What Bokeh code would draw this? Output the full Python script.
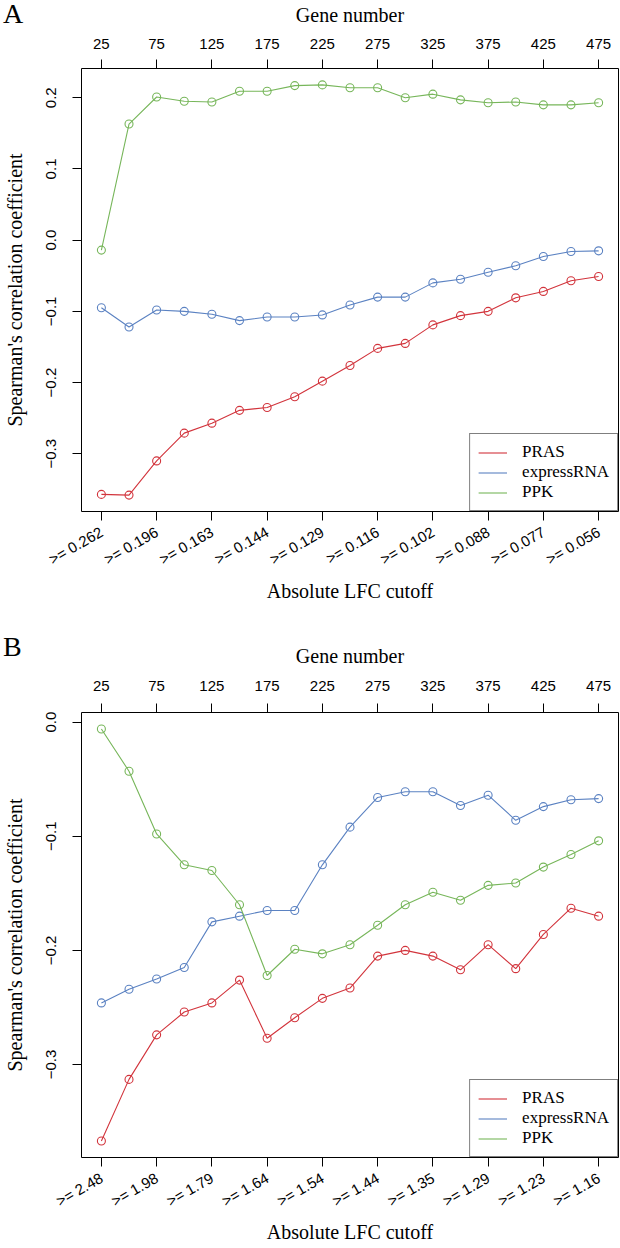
import math
from bokeh.plotting import figure
from bokeh.models import LinearAxis, FixedTicker, Range1d, Div
from bokeh.layouts import column
from bokeh.embed import file_html
from bokeh.resources import INLINE

# ---------------- data ----------------
gene_number = [25, 50, 75, 100, 125, 150, 175, 200, 225, 250,
               275, 300, 325, 350, 375, 400, 425, 450, 475]
label_ticks = [25, 75, 125, 175, 225, 275, 325, 375, 425, 475]
top_tick_labels = ["25", "75", "125", "175", "225", "275", "325", "375", "425", "475"]

a_cutoff_labels = [">= 0.262", ">= 0.196", ">= 0.163", ">= 0.144", ">= 0.129",
                   ">= 0.116", ">= 0.102", ">= 0.088", ">= 0.077", ">= 0.056"]
b_cutoff_labels = [">= 2.48", ">= 1.98", ">= 1.79", ">= 1.64", ">= 1.54",
                   ">= 1.44", ">= 1.35", ">= 1.29", ">= 1.23", ">= 1.16"]

a_pras = [-0.357, -0.358, -0.310, -0.271, -0.257, -0.239, -0.235, -0.220, -0.198, -0.176,
          -0.152, -0.145, -0.119, -0.106, -0.100, -0.081, -0.072, -0.057, -0.051]
a_express = [-0.095, -0.122, -0.098, -0.100, -0.104, -0.113, -0.108, -0.108, -0.105, -0.091,
             -0.080, -0.080, -0.060, -0.055, -0.045, -0.036, -0.023, -0.016, -0.015]
a_ppk = [-0.014, 0.163, 0.201, 0.195, 0.194, 0.209, 0.209, 0.217, 0.218, 0.214,
         0.214, 0.200, 0.205, 0.197, 0.193, 0.194, 0.190, 0.190, 0.193]

b_pras = [-0.367, -0.313, -0.274, -0.254, -0.246, -0.226, -0.277, -0.259, -0.242, -0.233,
          -0.205, -0.200, -0.205, -0.217, -0.195, -0.216, -0.186, -0.163, -0.170]
b_express = [-0.246, -0.234, -0.225, -0.215, -0.175, -0.170, -0.165, -0.165, -0.125, -0.092,
             -0.066, -0.061, -0.061, -0.073, -0.064, -0.086, -0.074, -0.068, -0.067]
b_ppk = [-0.006, -0.043, -0.098, -0.125, -0.130, -0.160, -0.222, -0.199, -0.203, -0.195,
         -0.178, -0.160, -0.149, -0.156, -0.143, -0.141, -0.127, -0.116, -0.104]

a_yticks = [-0.3, -0.2, -0.1, 0.0, 0.1, 0.2]
a_ytick_labels = ["\u22120.3", "\u22120.2", "\u22120.1", "0.0", "0.1", "0.2"]
b_yticks = [-0.3, -0.2, -0.1, 0.0]
b_ytick_labels = ["\u22120.3", "\u22120.2", "\u22120.1", "0.0"]

series_names = ["PRAS", "expressRNA", "PPK"]
series_colors = ["#D2343C", "#5B82C2", "#77B65A"]

SERIF = "Liberation Serif"
SANS = "Liberation Sans"


def pad_range(vals, frac=0.04):
    lo, hi = min(vals), max(vals)
    r = hi - lo
    return lo - frac * r, hi + frac * r


def style_axis(ax, label_standoff, title_standoff):
    ax.axis_line_color = None
    ax.major_tick_line_color = "black"
    ax.major_tick_out = 9
    ax.major_tick_in = 0
    ax.minor_tick_line_color = None
    ax.major_label_text_font = SANS
    ax.major_label_text_font_size = "15px"
    ax.major_label_text_color = "black"
    ax.major_label_standoff = label_standoff
    ax.axis_label_text_font = SERIF
    ax.axis_label_text_font_size = "20px"
    ax.axis_label_text_font_style = "normal"
    ax.axis_label_text_color = "black"
    ax.axis_label_standoff = title_standoff


def make_panel(series, cutoff_labels, yticks, ylabels, H,
               border_top, border_bottom, top_ls, top_ts, bot_ls, bot_ts):
    W = 620
    all_vals = [v for s in series for v in s]
    y0, y1 = pad_range(all_vals)
    x0, x1 = pad_range(gene_number)
    p = figure(width=W, height=H, output_backend="svg", toolbar_location=None,
               x_range=Range1d(x0, x1), y_range=Range1d(y0, y1),
               min_border_left=80, min_border_right=2,
               min_border_top=border_top, min_border_bottom=border_bottom)
    p.grid.visible = False
    p.outline_line_color = "black"
    p.outline_line_width = 1
    p.background_fill_color = "white"
    p.border_fill_color = "white"

    # bottom axis: cutoffs
    bx = p.xaxis[0]
    bx.ticker = FixedTicker(ticks=label_ticks)
    bx.major_label_overrides = {t: l for t, l in zip(label_ticks, cutoff_labels)}
    bx.axis_label = "Absolute LFC cutoff"
    style_axis(bx, bot_ls, bot_ts)
    bx.major_label_orientation = math.radians(30)

    # top axis: gene number
    tx = LinearAxis(axis_label="Gene number")
    tx.ticker = FixedTicker(ticks=label_ticks)
    tx.major_label_overrides = {t: l for t, l in zip(label_ticks, top_tick_labels)}
    style_axis(tx, top_ls, top_ts)
    p.add_layout(tx, "above")

    # left axis
    ly = p.yaxis[0]
    ly.ticker = FixedTicker(ticks=yticks)
    ly.major_label_overrides = {t: l for t, l in zip(yticks, ylabels)}
    ly.axis_label = "Spearman's correlation coefficient"
    style_axis(ly, 16, 18)
    ly.major_label_orientation = "vertical"

    for name, vals, col in zip(series_names, series, series_colors):
        p.line(gene_number, vals, line_color=col, line_width=1.1, legend_label=name)
        p.scatter(gene_number, vals, marker="circle", size=8, fill_color=None,
                  line_color=col, line_width=1.1)

    lg = p.legend[0]
    lg.location = "bottom_right"
    lg.margin = 0
    lg.padding = 8
    lg.spacing = 0
    lg.glyph_width = 29
    lg.glyph_height = 19
    lg.label_height = 19
    lg.label_standoff = 15
    lg.label_text_font = SERIF
    lg.label_text_font_size = "17px"
    lg.label_text_color = "black"
    lg.border_line_color = "black"
    lg.border_line_width = 1
    lg.background_fill_alpha = 1.0
    return p


def panel_letter(letter, left, top):
    css = (":host { position: absolute !important; left: %dpx !important; top: %dpx !important; "
           "z-index: 10 !important; font-family: 'Liberation Serif', serif !important; "
           "font-size: 28px !important; line-height: 28px !important; color: black !important; "
           "margin: 0 !important; padding: 0 !important; }" % (left, top))
    return Div(text=letter, width=26, height=28, stylesheets=[css])


pA = make_panel([a_pras, a_express, a_ppk], a_cutoff_labels, a_yticks, a_ytick_labels,
                H=624, border_top=66, border_bottom=113,
                top_ls=11, top_ts=10, bot_ls=10, bot_ts=2)
pB = make_panel([b_pras, b_express, b_ppk], b_cutoff_labels, b_yticks, b_ytick_labels,
                H=624, border_top=88, border_bottom=91,
                top_ls=13, top_ts=11, bot_ls=10, bot_ts=1)

layout = column(pA, pB, panel_letter("A", 3, 0), panel_letter("B", 3, 633),
                spacing=0, stylesheets=[":host { position: relative; }"])
open("out.html", "w").write(file_html(layout, INLINE))
